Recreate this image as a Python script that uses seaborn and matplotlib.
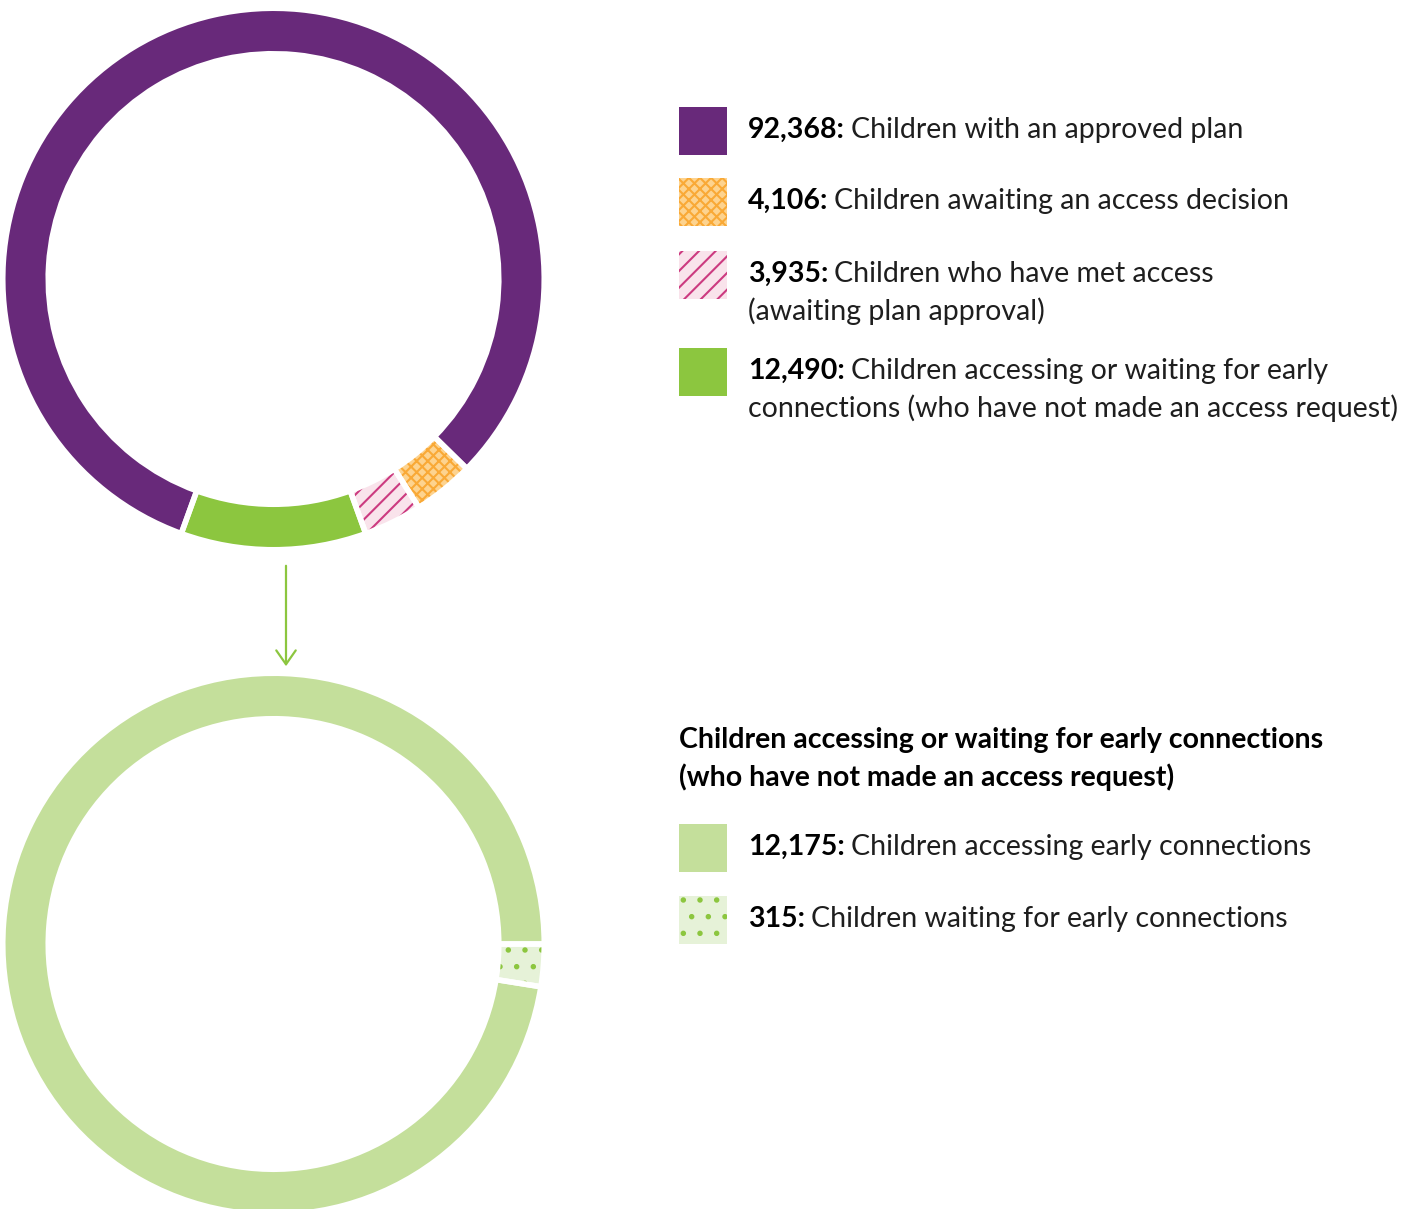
import matplotlib
matplotlib.use("Agg")
import matplotlib.pyplot as plt
import seaborn as sns
from matplotlib.patches import Rectangle, FancyArrowPatch

sns.set_theme(style="white")
plt.rcParams["font.family"] = ["Lato", "DejaVu Sans"]
plt.rcParams["hatch.linewidth"] = 1.5

# ---- data -------------------------------------------------------------
status_counts = [92368, 4106, 3935, 12490]
status_labels = [
    ["Children with an approved plan"],
    ["Children awaiting an access decision"],
    ["Children who have met access", "(awaiting plan approval)"],
    ["Children accessing or waiting for early",
     "connections (who have not made an access request)"],
]
status_faces = ["#68297a", "#fdd38f", "#f9e3eb", "#8cc63f"]
status_hatches = [None, "xxx", "//", None]
status_hatch_colors = ["#68297a", "#f9a936", "#cc3a80", "#8cc63f"]

early_title = ["Children accessing or waiting for early connections",
               "(who have not made an access request)"]
early_counts = [12175, 315]
early_labels = [["Children accessing early connections"],
                ["Children waiting for early connections"]]
early_faces = ["#c4df9b", "#e6f2d8"]
early_hatches = [None, "."]
early_hatch_colors = ["#c4df9b", "#8cc63f"]

# ---- figure -------------------------------------------------------------
W, H, DPI = 1427, 1209, 100
fig = plt.figure(figsize=(W / DPI, H / DPI), dpi=DPI)
fig.patch.set_facecolor("white")


def fx(x):
    return x / W


def fy(y):
    return 1 - y / H


def ring_axes(cx, cy, r_px):
    ax = fig.add_axes([fx(cx - r_px), fy(cy + r_px), 2 * r_px / W, 2 * r_px / H])
    ax.axis("off")
    return ax


def draw_ring(ax, values, faces, hatches, hcolors, start, counterclock, width):
    wedges, _ = ax.pie(values, colors=faces, startangle=start,
                       counterclock=counterclock, radius=1,
                       wedgeprops=dict(width=width, linewidth=0))
    for w, h, hc in zip(wedges, hatches, hcolors):
        w.set_edgecolor(hc)
        w.set_linewidth(0)
        if h:
            w.set_hatch(h)
    # white separators between segments
    ax.pie(values, colors=["none"] * len(values), startangle=start,
           counterclock=counterclock, radius=1,
           wedgeprops=dict(width=width, linewidth=4, edgecolor="white",
                           fill=False))
    ax.set_xlim(-1, 1)
    ax.set_ylim(-1, 1)
    ax.set_aspect("equal")


R = 270.75
WIDTH = 0.168

# overall status ring: green segment centred at the bottom
ax1 = ring_axes(273.5, 279, R)
order = [3, 2, 1, 0]
total = sum(status_counts)
green_angle = 360 * status_counts[3] / total
draw_ring(ax1,
          [status_counts[i] for i in order],
          [status_faces[i] for i in order],
          [status_hatches[i] for i in order],
          [status_hatch_colors[i] for i in order],
          start=270 - green_angle / 2, counterclock=True, width=WIDTH)

# early connections breakdown ring
ax2 = ring_axes(273.5, 944, R)
draw_ring(ax2,
          early_counts[::-1], early_faces[::-1], early_hatches[::-1],
          early_hatch_colors[::-1], start=0, counterclock=False, width=WIDTH)

# arrow linking the two rings
arrow = FancyArrowPatch((fx(286), fy(563)), (fx(286), fy(669)),
                        transform=fig.transFigure,
                        arrowstyle="->,head_length=0.5,head_width=0.35",
                        mutation_scale=20, color="#8cc63f", linewidth=1.6)
fig.add_artist(arrow)

# ---- legend ---------------------------------------------------------------
renderer = fig.canvas.get_renderer()
FS = 20.5
LINE = 37
TXT = "#1e1e1e"


def legend_row(y_top, count, lines, face, hatch, hcolor):
    rect = Rectangle((fx(679), fy(y_top + 48)), 48 / W, 48 / H,
                     transform=fig.transFigure, facecolor=face,
                     edgecolor=hcolor, linewidth=0, hatch=hatch)
    fig.add_artist(rect)
    y = y_top + 23
    b = fig.text(fx(748), fy(y), f"{count:,}:", fontsize=FS,
                 fontweight="bold", color="black", va="center", ha="left")
    bb = b.get_window_extent(renderer)
    fig.text(fx(bb.x1 + 6), fy(y), lines[0], fontsize=FS, color=TXT,
             va="center", ha="left")
    for k, extra in enumerate(lines[1:], start=1):
        fig.text(fx(748), fy(y + k * LINE), extra, fontsize=FS,
                 color=TXT, va="center", ha="left")


for top, c, lab, f, h, hc in zip([107, 178, 251, 348], status_counts,
                                 status_labels, status_faces,
                                 status_hatches, status_hatch_colors):
    legend_row(top, c, lab, f, h, hc)

for k, line in enumerate(early_title):
    fig.text(fx(679), fy(740 + k * LINE), line, fontsize=FS,
             fontweight="bold", color="black", va="center", ha="left")

for top, c, lab, f, h, hc in zip([824, 896], early_counts, early_labels,
                                 early_faces, early_hatches,
                                 early_hatch_colors):
    legend_row(top, c, lab, f, h, hc)

fig.savefig("out.png", dpi=DPI, facecolor="white")
